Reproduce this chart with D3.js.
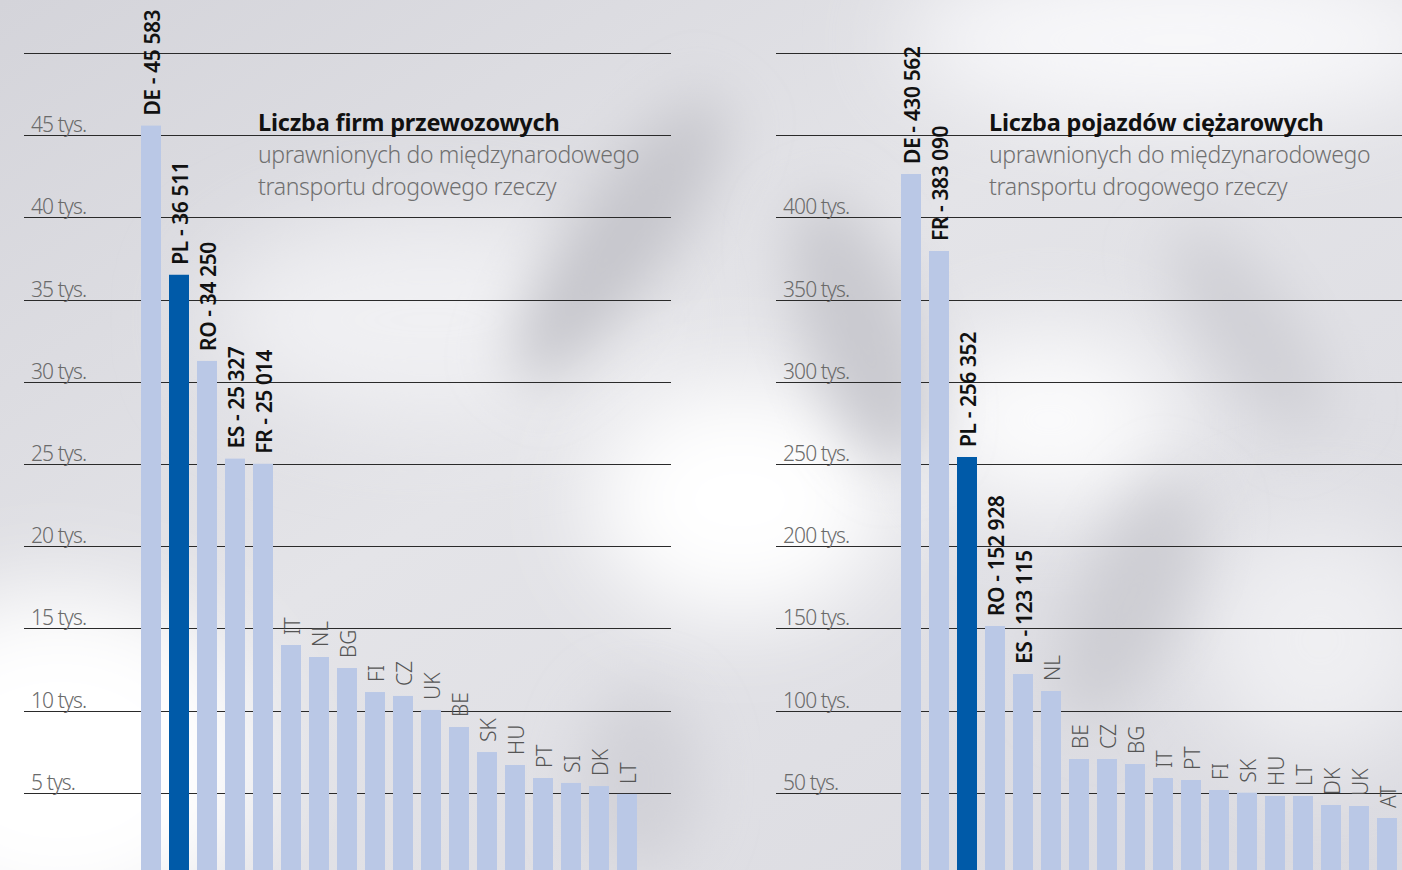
<!DOCTYPE html>
<html><head><meta charset="utf-8">
<script src="https://cdn.jsdelivr.net/npm/d3@7"></script>
<style>
html,body{margin:0;padding:0;background:#fff;}
svg{display:block;}
text{font-family:"Noto Sans","Open Sans",sans-serif;}
</style></head>
<body>
<svg id="chart" width="1402" height="870"></svg>
<script>
// ---------- DATA ----------
const firmCountries = ["DE","PL","RO","ES","FR","IT","NL","BG","FI","CZ","UK","BE","SK","HU","PT","SI","DK","LT"];
const firmValues    = [45583,36511,31270,25327,25014,13990,13260,12590,11130,10890,10040,9000,7480,6690,5900,5600,5410,4930];
const firmLabels    = ["DE - 45 583","PL - 36 511","RO - 34 250","ES - 25 327","FR - 25 014","IT","NL","BG","FI","CZ","UK","BE","SK","HU","PT","SI","DK","LT"];
const firmTicks     = [5000,10000,15000,20000,25000,30000,35000,40000,45000,50000];
const firmTickLabels= ["5 tys.","10 tys.","15 tys.","20 tys.","25 tys.","30 tys.","35 tys.","40 tys.","45 tys.",""];

const truckCountries = ["DE","FR","PL","RO","ES","NL","BE","CZ","BG","IT","PT","FI","SK","HU","LT","DK","UK","AT"];
const truckValues    = [426400,379560,254260,151460,122260,111920,70560,70560,67520,59000,57790,51700,50060,48050,48050,42580,41970,34670];
const truckLabels    = ["DE - 430 562","FR - 383 090","PL - 256 352","RO - 152 928","ES - 123 115","NL","BE","CZ","BG","IT","PT","FI","SK","HU","LT","DK","UK","AT"];
const truckTicks     = [50000,100000,150000,200000,250000,300000,350000,400000,450000,500000];
const truckTickLabels= ["50 tys.","100 tys.","150 tys.","200 tys.","250 tys.","300 tys.","350 tys.","400 tys.","",""];

const highlight = "PL";
const boldCount = 5;

const titles = [
  {title:"Liczba firm przewozowych", sub:["uprawnionych do międzynarodowego","transportu drogowego rzeczy"]},
  {title:"Liczba pojazdów ciężarowych", sub:["uprawnionych do międzynarodowego","transportu drogowego rzeczy"]}
];

// ---------- BACKGROUND ----------
const svg = d3.select("#chart");
const defs = svg.append("defs");
const bg = defs.append("linearGradient").attr("id","bgGrad").attr("x1","0").attr("y1","0").attr("x2","1").attr("y2","1");
bg.append("stop").attr("offset","0%").attr("stop-color","#d4d4da");
bg.append("stop").attr("offset","45%").attr("stop-color","#e4e4e8");
bg.append("stop").attr("offset","100%").attr("stop-color","#dadae0");
defs.append("filter").attr("id","blur").attr("x","-50%").attr("y","-50%").attr("width","200%").attr("height","200%")
  .append("feGaussianBlur").attr("stdDeviation",45);
defs.append("filter").attr("id","blur2").attr("x","-50%").attr("y","-50%").attr("width","200%").attr("height","200%")
  .append("feGaussianBlur").attr("stdDeviation",28);

svg.append("rect").attr("width",1402).attr("height",870).attr("fill","url(#bgGrad)");
const bgG = svg.append("g");
const blobs = [
  {cx:60,cy:760,rx:200,ry:170,c:"#ffffff",f:"blur"},
  {cx:430,cy:320,rx:220,ry:100,c:"#f0f0f3",f:"blur"},
  {cx:740,cy:500,rx:150,ry:120,c:"#ffffff",f:"blur"},
  {cx:1180,cy:40,rx:280,ry:80,c:"#f8f8fa",f:"blur"},
  {cx:1050,cy:420,rx:130,ry:90,c:"#fbfbfc",f:"blur"},
  {cx:1320,cy:640,rx:120,ry:120,c:"#efeff2",f:"blur"},
  {cx:620,cy:240,rx:50,ry:170,c:"#c6c6cc",f:"blur2",rot:35},
  {cx:860,cy:330,rx:55,ry:140,c:"#c9c9cf",f:"blur2",rot:-20},
  {cx:1130,cy:600,rx:50,ry:130,c:"#cdcdd3",f:"blur2",rot:25},
  {cx:1250,cy:330,rx:45,ry:120,c:"#d0d0d6",f:"blur2",rot:-35},
  {cx:640,cy:780,rx:60,ry:90,c:"#d2d2d8",f:"blur2",rot:0}
];
blobs.forEach(b=>{
  bgG.append("ellipse").attr("cx",b.cx).attr("cy",b.cy).attr("rx",b.rx).attr("ry",b.ry)
    .attr("fill",b.c).attr("filter",`url(#${b.f})`)
    .attr("transform",b.rot?`rotate(${b.rot},${b.cx},${b.cy})`:null);
});

// ---------- PANELS ----------
function panel(cfg){
  const g = svg.append("g");
  const y = d3.scaleLinear().domain(cfg.domain).range([875,53]);
  const x = d3.scaleBand().domain(cfg.cats).range(cfg.xr).paddingInner(8/28).paddingOuter(4/28);

  // gridlines
  g.selectAll("line.grid").data(cfg.ticks).join("line")
    .attr("x1",cfg.gx[0]).attr("x2",cfg.gx[1])
    .attr("y1",d=>Math.round(y(d))+0.5).attr("y2",d=>Math.round(y(d))+0.5)
    .attr("stroke","#2a2a2a").attr("stroke-width",1.1);
  // tick labels
  g.selectAll("text.tick").data(cfg.ticks).join("text")
    .attr("x",cfg.gx[0]+7).attr("y",d=>y(d)-3)
    .attr("font-size",21).attr("font-weight",300).attr("fill","#6a6a6a")
    .attr("letter-spacing","-0.9")
    .text((d,i)=>cfg.tickLabels[i]);

  // title
  const tg = g.append("g").attr("transform",`translate(${cfg.tx},0)`);
  tg.append("text").attr("x",0).attr("y",131).attr("font-size",23.5).attr("font-weight",700)
    .attr("fill","#111").attr("letter-spacing","-0.2").text(cfg.title.title);
  cfg.title.sub.forEach((s,i)=>{
    tg.append("text").attr("x",0).attr("y",163+i*32).attr("font-size",23).attr("font-weight",300)
      .attr("fill","#707070").attr("letter-spacing","-0.35").text(s);
  });

  // bars
  g.selectAll("rect.bar").data(cfg.cats).join("rect")
    .attr("x",d=>x(d)).attr("width",x.bandwidth())
    .attr("y",(d,i)=>y(cfg.values[i])).attr("height",(d,i)=>870-y(cfg.values[i]))
    .attr("fill",d=>d===highlight?"#005aa8":"#bac8e6");

  // bar labels
  g.selectAll("text.blab").data(cfg.cats).join("text")
    .attr("transform",(d,i)=>`translate(${x(d)+x.bandwidth()/2+1},${y(cfg.values[i])-10}) rotate(-90)`)
    .attr("dy","0.36em")
    .attr("font-size",21)
    .attr("font-weight",(d,i)=>i<boldCount?600:300)
    .attr("fill",(d,i)=>i<boldCount?"#111":"#555")
    .attr("letter-spacing",(d,i)=>i<boldCount?"-0.4":"0")
    .text((d,i)=>cfg.labels[i]);
}

panel({cats:firmCountries, values:firmValues, labels:firmLabels, ticks:firmTicks, tickLabels:firmTickLabels,
  domain:[0,50000], xr:[137,641], gx:[24,671], tx:258, title:titles[0]});
panel({cats:truckCountries, values:truckValues, labels:truckLabels, ticks:truckTicks, tickLabels:truckTickLabels,
  domain:[0,500000], xr:[897,1401], gx:[776,1402], tx:989, title:titles[1]});
</script>
</body></html>
